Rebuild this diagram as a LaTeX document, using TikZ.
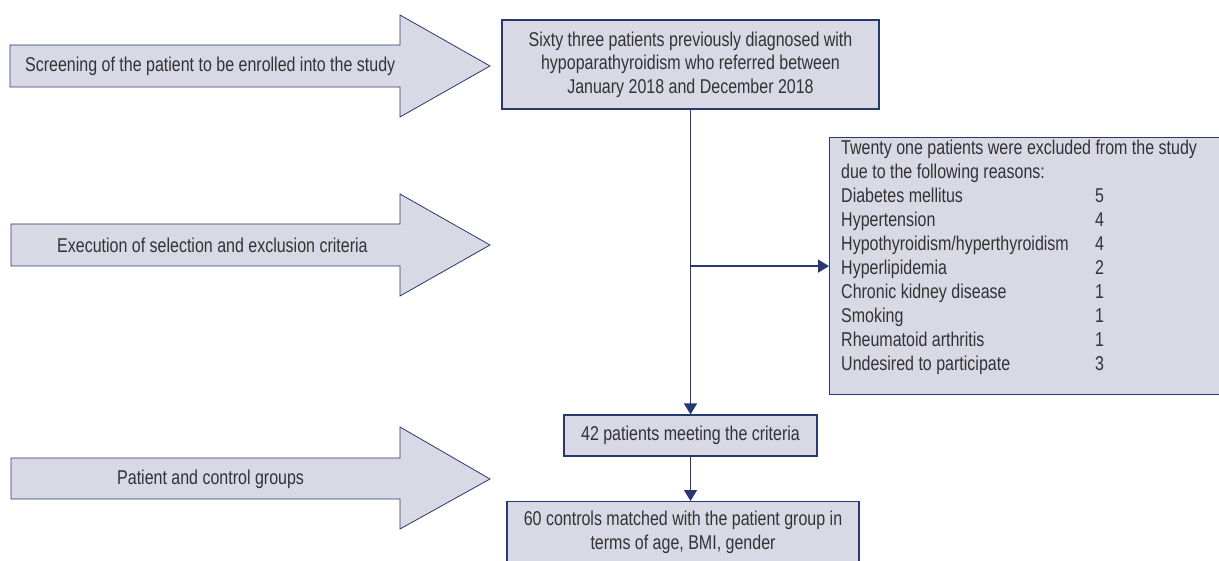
\documentclass[tikz,border=0pt]{standalone}
\usepackage{fontspec}
\setmainfont{Liberation Sans}[FakeStretch=0.8]
\usetikzlibrary{arrows.meta}
\definecolor{boxfill}{HTML}{D9D8E5}
\definecolor{boxline}{HTML}{27396F}
\definecolor{txt}{HTML}{333333}
\tikzset{
  bigarrow/.style={draw=boxline, line width=0.8pt, fill=boxfill, line join=miter},
  flowbox/.style={draw=boxline, line width=1.2pt, fill=boxfill, inner sep=0pt, text=txt, align=center,
    font=\fontsize{20}{23.5}\selectfont},
  lbl/.style={text=txt, inner sep=0pt, font=\fontsize{20}{24}\selectfont},
  conn/.style={draw=boxline, line width=1.5pt, -{Triangle[width=13pt,length=11pt]}},
}
\begin{document}
\begin{tikzpicture}[x=1pt,y=-1pt]
\useasboundingbox (0,0) rectangle (1219,561);
\clip (0,0) rectangle (1219,561);
% big arrows
\path[bigarrow] (10,45)--(400,45)--(400,15)--(490,66)--(400,117)--(400,87)--(10,87)--cycle;
\node[lbl, anchor=west] (a1) at (25,66) {Screening of the patient to be enrolled into the study};
\path[bigarrow] (11,224)--(400,224)--(400,194)--(490,245)--(400,296)--(400,266)--(11,266)--cycle;
\node[lbl, anchor=west] (a2) at (57,245) {Execution of selection and exclusion criteria};
\path[bigarrow] (11,458)--(400,458)--(400,427)--(490,479)--(400,529)--(400,499)--(11,499)--cycle;
\node[lbl, anchor=west] (a3) at (117,479) {Patient and control groups};
% boxes
\node[flowbox, minimum width=377pt, minimum height=89pt] (top) at (690.5,64.5)
  {Sixty three patients previously diagnosed with\\hypoparathyroidism who referred between\\January 2018 and December 2018};
\node[flowbox, anchor=north west, minimum width=410pt, minimum height=257pt] (excl) at (829,137) {};
\node[lbl, anchor=north west, align=left] (excltext) at (841,140)
  {Twenty one patients were excluded from the study\\
   due to the following reasons:\\
   \makebox[254pt][l]{Diabetes mellitus}5\\
   \makebox[254pt][l]{Hypertension}4\\
   \makebox[254pt][l]{Hypothyroidism/hyperthyroidism}4\\
   \makebox[254pt][l]{Hyperlipidemia}2\\
   \makebox[254pt][l]{Chronic kidney disease}1\\
   \makebox[254pt][l]{Smoking}1\\
   \makebox[254pt][l]{Rheumatoid arthritis}1\\
   \makebox[254pt][l]{Undesired to participate}3};
\node[flowbox, minimum width=253pt, minimum height=41pt] (mid) at (690.5,435.5) {42 patients meeting the criteria};
\node[flowbox, anchor=north, minimum width=352pt, minimum height=90pt] (ctrl) at (683,501) {};
\node[lbl, align=center] (ctrltext) at (683,532) {60 controls matched with the patient group in\\terms of age, BMI, gender};
% connectors
\draw[conn] (top.south -| mid.north) -- (mid.north);
\draw[conn] (mid.north |- excl.west) -- (excl.west);
\draw[conn] (mid.south) -- (mid.south |- ctrl.north);
\end{tikzpicture}
\end{document}
